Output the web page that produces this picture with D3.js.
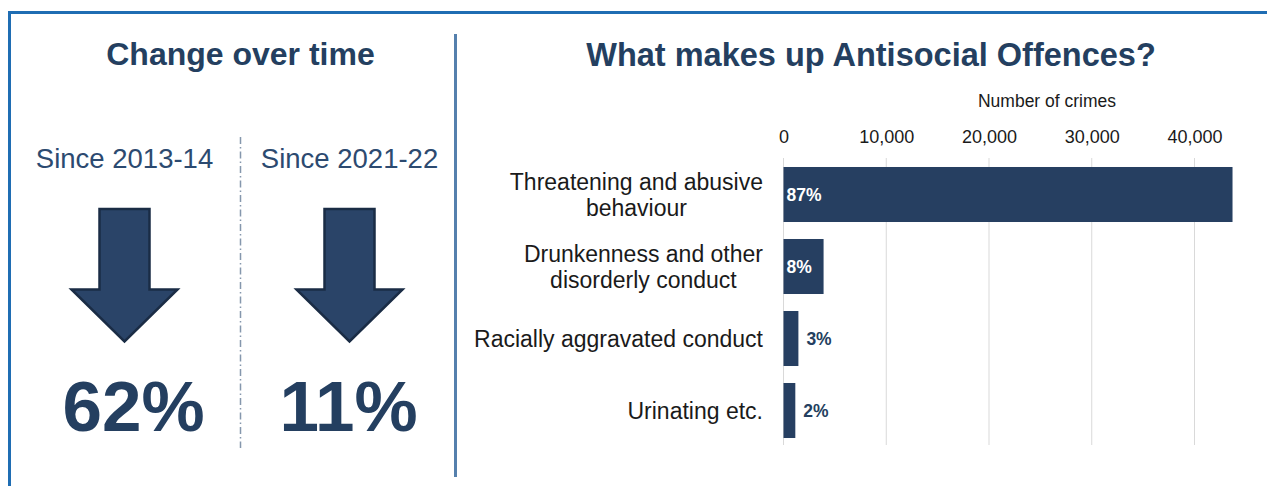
<!DOCTYPE html>
<html>
<head>
<meta charset="utf-8">
<script src="https://cdn.jsdelivr.net/npm/d3@7"></script>
<style>
  body { margin: 0; background: #fff; }
  svg { display: block; font-family: "Liberation Sans", Arial, sans-serif; }
</style>
</head>
<body>
<script>
// data
const periods = ["Since 2013-14", "Since 2021-22"];
const changes = [62, 11];

const categories = [
  ["Threatening and abusive", "behaviour"],
  ["Drunkenness and other", "disorderly conduct"],
  ["Racially aggravated conduct"],
  ["Urinating etc."]
];
const crimes = [43700, 3900, 1450, 1150];
const shares = [87, 8, 3, 2];
const tickValues = [0, 10000, 20000, 30000, 40000];

const width = 1267, height = 486;
const navy = "#243f60";

const svg = d3.select("body").append("svg")
    .attr("width", width)
    .attr("height", height);

// frame
svg.append("path")
    .attr("d", "M9.5," + height + "V12.5H" + (width + 5))
    .attr("fill", "none")
    .attr("stroke", "#1f6db3")
    .attr("stroke-width", 3);

// panel divider
svg.append("line")
    .attr("x1", 455.5).attr("x2", 455.5)
    .attr("y1", 34).attr("y2", 477)
    .attr("stroke", "#5580ad")
    .attr("stroke-width", 3);

// ---------- left panel ----------
svg.append("text")
    .attr("x", 240.5).attr("y", 65)
    .attr("text-anchor", "middle")
    .attr("font-size", 32).attr("font-weight", "bold")
    .attr("fill", navy)
    .text("Change over time");

var col = d3.scaleBand()
    .domain(periods)
    .range([12, 462]);

svg.append("line")
    .attr("x1", 240.5).attr("x2", 240.5)
    .attr("y1", 137).attr("y2", 448)
    .attr("stroke", "#8597ad")
    .attr("stroke-width", 1.5)
    .attr("stroke-dasharray", "7,3,1.5,3");

var numOffset = [9, -1];

var cols = svg.selectAll("g.col")
    .data(periods)
    .enter()
    .append("g")
    .attr("class", "col")
    .attr("transform", d => "translate(" + (col(d) + col.bandwidth() / 2) + ",0)");

cols.append("text")
    .attr("y", 168)
    .attr("text-anchor", "middle")
    .attr("font-size", 27.5)
    .attr("fill", "#2c4a70")
    .text(d => d);

// down arrow: shaft half width 25, head half width 53
cols.append("path")
    .attr("d", "M-25,209H25V289.5H53L0,341.5L-53,289.5H-25Z")
    .attr("fill", "#2a4468")
    .attr("stroke", "#1a2c45")
    .attr("stroke-width", 2.5)
    .attr("stroke-linejoin", "miter");

cols.append("text")
    .attr("x", (d, i) => numOffset[i])
    .attr("y", 431)
    .attr("text-anchor", "middle")
    .attr("font-size", 71).attr("font-weight", "bold")
    .attr("fill", navy)
    .text((d, i) => changes[i] + "%");

// ---------- right panel ----------
svg.append("text")
    .attr("x", 871).attr("y", 66)
    .attr("text-anchor", "middle")
    .attr("font-size", 32.5).attr("font-weight", "bold")
    .attr("fill", navy)
    .text("What makes up Antisocial Offences?");

var x = d3.scaleLinear()
    .domain([0, 40000])
    .range([783.5, 1194.5]);

var y = d3.scaleBand()
    .domain(d3.range(categories.length))
    .range([158.5, 446.5])
    .paddingInner(0.236)
    .paddingOuter(0.118);

svg.append("text")
    .attr("x", 1047).attr("y", 107)
    .attr("text-anchor", "middle")
    .attr("font-size", 17.5)
    .attr("fill", "#1a1a1a")
    .text("Number of crimes");

// gridlines
svg.append("g")
    .selectAll("line")
    .data(tickValues)
    .enter()
    .append("line")
    .attr("x1", d => x(d)).attr("x2", d => x(d))
    .attr("y1", 158).attr("y2", 445)
    .attr("stroke", "#d9d9d9")
    .attr("stroke-width", 1);

// axis labels on top
var axis = svg.append("g")
    .attr("transform", "translate(0,143)")
    .call(d3.axisTop(x)
        .tickValues(tickValues)
        .tickSize(0)
        .tickPadding(0)
        .tickFormat(d3.format(",")));
axis.select(".domain").remove();
axis.selectAll("text")
    .attr("font-size", 18)
    .attr("font-family", "Liberation Sans, Arial, sans-serif")
    .attr("fill", "#1a1a1a")
    .attr("dy", 0);

// bars
var bars = svg.append("g")
    .selectAll("g")
    .data(crimes)
    .enter()
    .append("g");

bars.append("rect")
    .attr("x", x(0))
    .attr("y", (d, i) => y(i))
    .attr("width", d => x(d) - x(0))
    .attr("height", y.bandwidth())
    .attr("fill", "#263f61");

bars.append("text")
    .attr("x", d => (x(d) - x(0) > 30) ? x(0) + 3 : x(d) + 8)
    .attr("y", (d, i) => y(i) + y.bandwidth() / 2 + 6)
    .attr("font-size", 17.5).attr("font-weight", "bold")
    .attr("fill", d => (x(d) - x(0) > 30) ? "#fff" : navy)
    .text((d, i) => shares[i] + "%");

// category labels
var labels = svg.append("g")
    .selectAll("text")
    .data(categories)
    .enter()
    .append("text")
    .attr("text-anchor", "middle")
    .attr("font-size", 23)
    .attr("fill", "#1a1a1a");

labels.each(function (lines, i) {
    var cy = y(i) + y.bandwidth() / 2;
    var t = d3.select(this);
    var widest = 0;
    lines.forEach(function (s, j) {
        t.append("tspan")
            .attr("y", cy + 8 + (j - (lines.length - 1) / 2) * 26)
            .text(s);
    });
    // right-align the block, centre the lines within it
    t.selectAll("tspan").nodes().forEach(function (n) {
        widest = Math.max(widest, n.getComputedTextLength());
    });
    t.selectAll("tspan").attr("x", 763 - widest / 2);
});
</script>
</body>
</html>
